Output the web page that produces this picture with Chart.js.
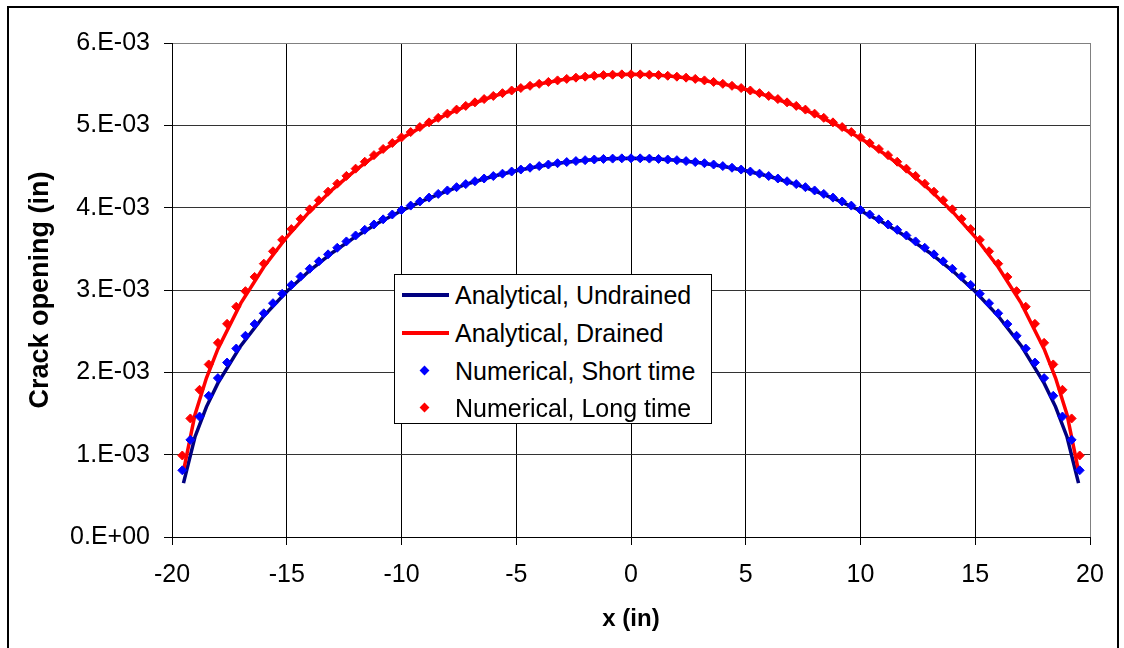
<!DOCTYPE html>
<html>
<head>
<meta charset="utf-8">
<script src="https://cdn.jsdelivr.net/npm/chart.js@4.4.1/dist/chart.umd.min.js"></script>
<style>
    html, body { margin: 0; padding: 0; background: #fff; }
    #wrap { position: relative; width: 1124px; height: 648px; overflow: hidden; font-family: "Liberation Sans", Arial, sans-serif; }
    #frame { position: absolute; left: 7px; top: 6px; width: 1108px; height: 680px; border: 2px solid #000; }
    #chart { position: absolute; left: 0; top: 0; }
    #legend { position: absolute; left: 394px; top: 274px; width: 316px; height: 148px; border: 1px solid #000; background: #fff; }
    .row { position: absolute; left: 0; height: 38px; font-size: 25px; line-height: 38px; white-space: nowrap; color: #000; }
    .row span.label { position: absolute; left: 60px; top: 0; }
    .sym-line { position: absolute; left: 7px; top: 17px; width: 47px; height: 4px; }
    .sym-dot { position: absolute; left: 26px; top: 15px; width: 7px; height: 7px; transform: rotate(45deg); }
</style>
</head>
<body>
<div id="wrap">
    <div id="frame"></div>
    <canvas id="chart" width="1124" height="648"></canvas>
    <div id="legend"></div>
</div>
<script>
// values, crack opening in units of 1e-3 in
const Y_UNIT = 1e-3;

const lineX = [
    -19.5, -19, -18.5, -18, -17, -16, -15, -14, -13, -12, -11, -10, -9, -8, -7, -6, -5, -4, -3, -2, -1,
    0, 1, 2, 3, 4, 5, 6, 7, 8, 9, 10, 11, 12, 13, 14, 15, 16, 17, 18, 18.5, 19, 19.5,
];

const undrained = [
    0.654, 1.215, 1.581, 1.869, 2.324, 2.684, 2.982, 3.236, 3.456, 3.648, 3.816, 3.963, 4.092, 4.204, 4.300, 4.381, 4.449, 4.504, 4.546, 4.576, 4.594,
    4.600, 4.594, 4.576, 4.546, 4.504, 4.449, 4.381, 4.300, 4.204, 4.092, 3.963, 3.816, 3.648, 3.456, 3.236, 2.982, 2.684, 2.324, 1.869, 1.581, 1.215, 0.654,
];

const drained = [
    0.799, 1.485, 1.931, 2.284, 2.840, 3.279, 3.643, 3.954, 4.223, 4.457, 4.662, 4.842, 4.999, 5.136, 5.253, 5.353, 5.436, 5.503, 5.554, 5.591, 5.613,
    5.620, 5.613, 5.591, 5.554, 5.503, 5.436, 5.353, 5.253, 5.136, 4.999, 4.842, 4.662, 4.457, 4.223, 3.954, 3.643, 3.279, 2.840, 2.284, 1.931, 1.485, 0.799,
];

const numX = [
    -19.55, -19.2, -18.8, -18.4, -18, -17.6, -17.2, -16.8, -16.4, -16, -15.6, -15.2, -14.8, -14.4, -14, -13.6, -13.2, -12.8, -12.4, -12,
    -11.6, -11.2, -10.8, -10.4, -10, -9.6, -9.2, -8.8, -8.4, -8, -7.6, -7.2, -6.8, -6.4, -6, -5.6, -5.2, -4.8, -4.4, -4,
    -3.6, -3.2, -2.8, -2.4, -2, -1.6, -1.2, -0.8, -0.4, 0,
    0.4, 0.8, 1.2, 1.6, 2, 2.4, 2.8, 3.2, 3.6, 4, 4.4, 4.8, 5.2, 5.6, 6, 6.4, 6.8, 7.2, 7.6, 8,
    8.4, 8.8, 9.2, 9.6, 10, 10.4, 10.8, 11.2, 11.6, 12, 12.4, 12.8, 13.2, 13.6, 14, 14.4, 14.8, 15.2, 15.6, 16,
    16.4, 16.8, 17.2, 17.6, 18, 18.4, 18.8, 19.2, 19.55,
];

const shortTime = [
    0.81, 1.18, 1.463, 1.715, 1.930, 2.119, 2.289, 2.444, 2.586, 2.717, 2.840, 2.954, 3.062, 3.163, 3.258, 3.348, 3.433, 3.513, 3.590, 3.662,
    3.731, 3.796, 3.858, 3.917, 3.972, 4.025, 4.075, 4.122, 4.167, 4.209, 4.249, 4.286, 4.321, 4.354, 4.384, 4.413, 4.439, 4.463, 4.485, 4.505,
    4.524, 4.540, 4.554, 4.566, 4.577, 4.585, 4.592, 4.596, 4.599, 4.600,
    4.599, 4.596, 4.592, 4.585, 4.577, 4.566, 4.554, 4.540, 4.524, 4.505, 4.485, 4.463, 4.439, 4.413, 4.384, 4.354, 4.321, 4.286, 4.249, 4.209,
    4.167, 4.122, 4.075, 4.025, 3.972, 3.917, 3.858, 3.796, 3.731, 3.662, 3.590, 3.513, 3.433, 3.348, 3.258, 3.163, 3.062, 2.954, 2.840, 2.717,
    2.586, 2.444, 2.289, 2.119, 1.930, 1.715, 1.463, 1.18, 0.81,
];

const longTime = [
    0.99, 1.44, 1.788, 2.096, 2.358, 2.589, 2.797, 2.986, 3.159, 3.320, 3.470, 3.609, 3.740, 3.864, 3.980, 4.090, 4.194, 4.292, 4.386, 4.474,
    4.558, 4.638, 4.713, 4.785, 4.853, 4.918, 4.979, 5.036, 5.091, 5.142, 5.191, 5.236, 5.279, 5.319, 5.357, 5.391, 5.423, 5.453, 5.480, 5.504,
    5.527, 5.546, 5.564, 5.579, 5.591, 5.602, 5.610, 5.615, 5.619, 5.620,
    5.619, 5.615, 5.610, 5.602, 5.591, 5.579, 5.564, 5.546, 5.527, 5.504, 5.480, 5.453, 5.423, 5.391, 5.357, 5.319, 5.279, 5.236, 5.191, 5.142,
    5.091, 5.036, 4.979, 4.918, 4.853, 4.785, 4.713, 4.638, 4.558, 4.474, 4.386, 4.292, 4.194, 4.090, 3.980, 3.864, 3.740, 3.609, 3.470, 3.320,
    3.159, 2.986, 2.797, 2.589, 2.358, 2.096, 1.788, 1.44, 0.99,
];

const xTicks = [-20, -15, -10, -5, 0, 5, 10, 15, 20];

function points(xs, ys) {
    return xs.map((x, i) => ({ x, y: ys[i] * Y_UNIT }));
}

// Excel style "0.E+00"
function sciLabel(v) {
    if (Math.abs(v) < 1e-12) {
        return '0.E+00';
    }
    const e = Math.floor(Math.log10(Math.abs(v)) + 1e-9);
    const m = Math.round(v / Math.pow(10, e));
    return m + '.E' + (e < 0 ? '-' : '+') + String(Math.abs(e)).padStart(2, '0');
}

Chart.defaults.font.family = '"Liberation Sans", Arial, sans-serif';
Chart.defaults.color = '#000';

const datasets = [
    {
        label: 'Analytical, Undrained',
        legendIndex: 0,
        data: points(lineX, undrained),
        borderColor: '#000080',
        borderWidth: 3.5,
        pointRadius: 0,
        tension: 0,
        order: 3,
    },
    {
        label: 'Analytical, Drained',
        legendIndex: 1,
        data: points(lineX, drained),
        borderColor: '#ff0000',
        borderWidth: 3.5,
        pointRadius: 0,
        tension: 0,
        order: 2,
    },
    {
        label: 'Numerical, Short time',
        legendIndex: 2,
        data: points(numX, shortTime),
        showLine: false,
        pointStyle: 'rectRot',
        pointRadius: 4.5,
        pointBorderWidth: 1,
        pointBackgroundColor: '#0000ff',
        pointBorderColor: '#0000ff',
        borderColor: '#0000ff',
        order: 1,
    },
    {
        label: 'Numerical, Long time',
        legendIndex: 3,
        data: points(numX, longTime),
        showLine: false,
        pointStyle: 'rectRot',
        pointRadius: 4.5,
        pointBorderWidth: 1,
        pointBackgroundColor: '#ff0000',
        pointBorderColor: '#ff0000',
        borderColor: '#ff0000',
        order: 0,
    },
];

const chart = new Chart(document.getElementById('chart'), {
    type: 'line',
    data: { datasets },
    options: {
        responsive: false,
        animation: false,
        events: [],
        layout: { padding: { top: 43, right: 34, bottom: 0, left: 0 } },
        plugins: {
            legend: { display: false },
            tooltip: { enabled: false },
        },
        scales: {
            x: {
                type: 'linear',
                min: -20,
                max: 20,
                afterBuildTicks: (scale) => {
                    scale.ticks = xTicks.map((v) => ({ value: v }));
                },
                ticks: { color: '#000', font: { size: 25 }, padding: 15, maxRotation: 0 },
                grid: {
                    color: (ctx) => (ctx.tick && ctx.tick.value === 20 ? '#808080' : '#000'),
                    tickColor: '#000',
                    tickLength: 8,
                    lineWidth: 1,
                },
                border: { color: '#000', width: 1 },
                title: {
                    display: true,
                    text: 'x (in)',
                    color: '#000',
                    font: { size: 24, weight: 'bold' },
                    padding: { top: 0, bottom: 14 },
                },
                afterFit: (scale) => {
                    scale.height = 111;
                },
            },
            y: {
                min: 0,
                max: 6e-3,
                ticks: { stepSize: 1e-3, color: '#000', font: { size: 25 }, padding: 14, callback: sciLabel },
                grid: {
                    color: (ctx) => (ctx.tick && ctx.tick.value > 5.99e-3 ? '#808080' : '#333'),
                    tickColor: '#000',
                    tickLength: 8,
                    lineWidth: 1,
                },
                border: { color: '#000', width: 1 },
                title: {
                    display: true,
                    text: 'Crack opening (in)',
                    color: '#000',
                    font: { size: 27, weight: 'bold' },
                    padding: { top: 24, bottom: 0 },
                },
                afterFit: (scale) => {
                    scale.width = 172;
                },
            },
        },
    },
});

// legend box sits inside the plot like the original
const legendEl = document.getElementById('legend');
const rowTops = [1, 39, 77, 114];
chart.data.datasets
    .slice()
    .sort((a, b) => a.legendIndex - b.legendIndex)
    .forEach((ds, i) => {
        const row = document.createElement('div');
        row.className = 'row';
        row.style.top = rowTops[i] + 'px';
        row.style.width = '316px';
        const sym = document.createElement('div');
        if (ds.showLine === false) {
            sym.className = 'sym-dot';
            sym.style.background = ds.pointBackgroundColor;
        } else {
            sym.className = 'sym-line';
            sym.style.background = ds.borderColor;
        }
        const label = document.createElement('span');
        label.className = 'label';
        label.textContent = ds.label;
        row.appendChild(sym);
        row.appendChild(label);
        legendEl.appendChild(row);
    });
</script>
</body>
</html>
